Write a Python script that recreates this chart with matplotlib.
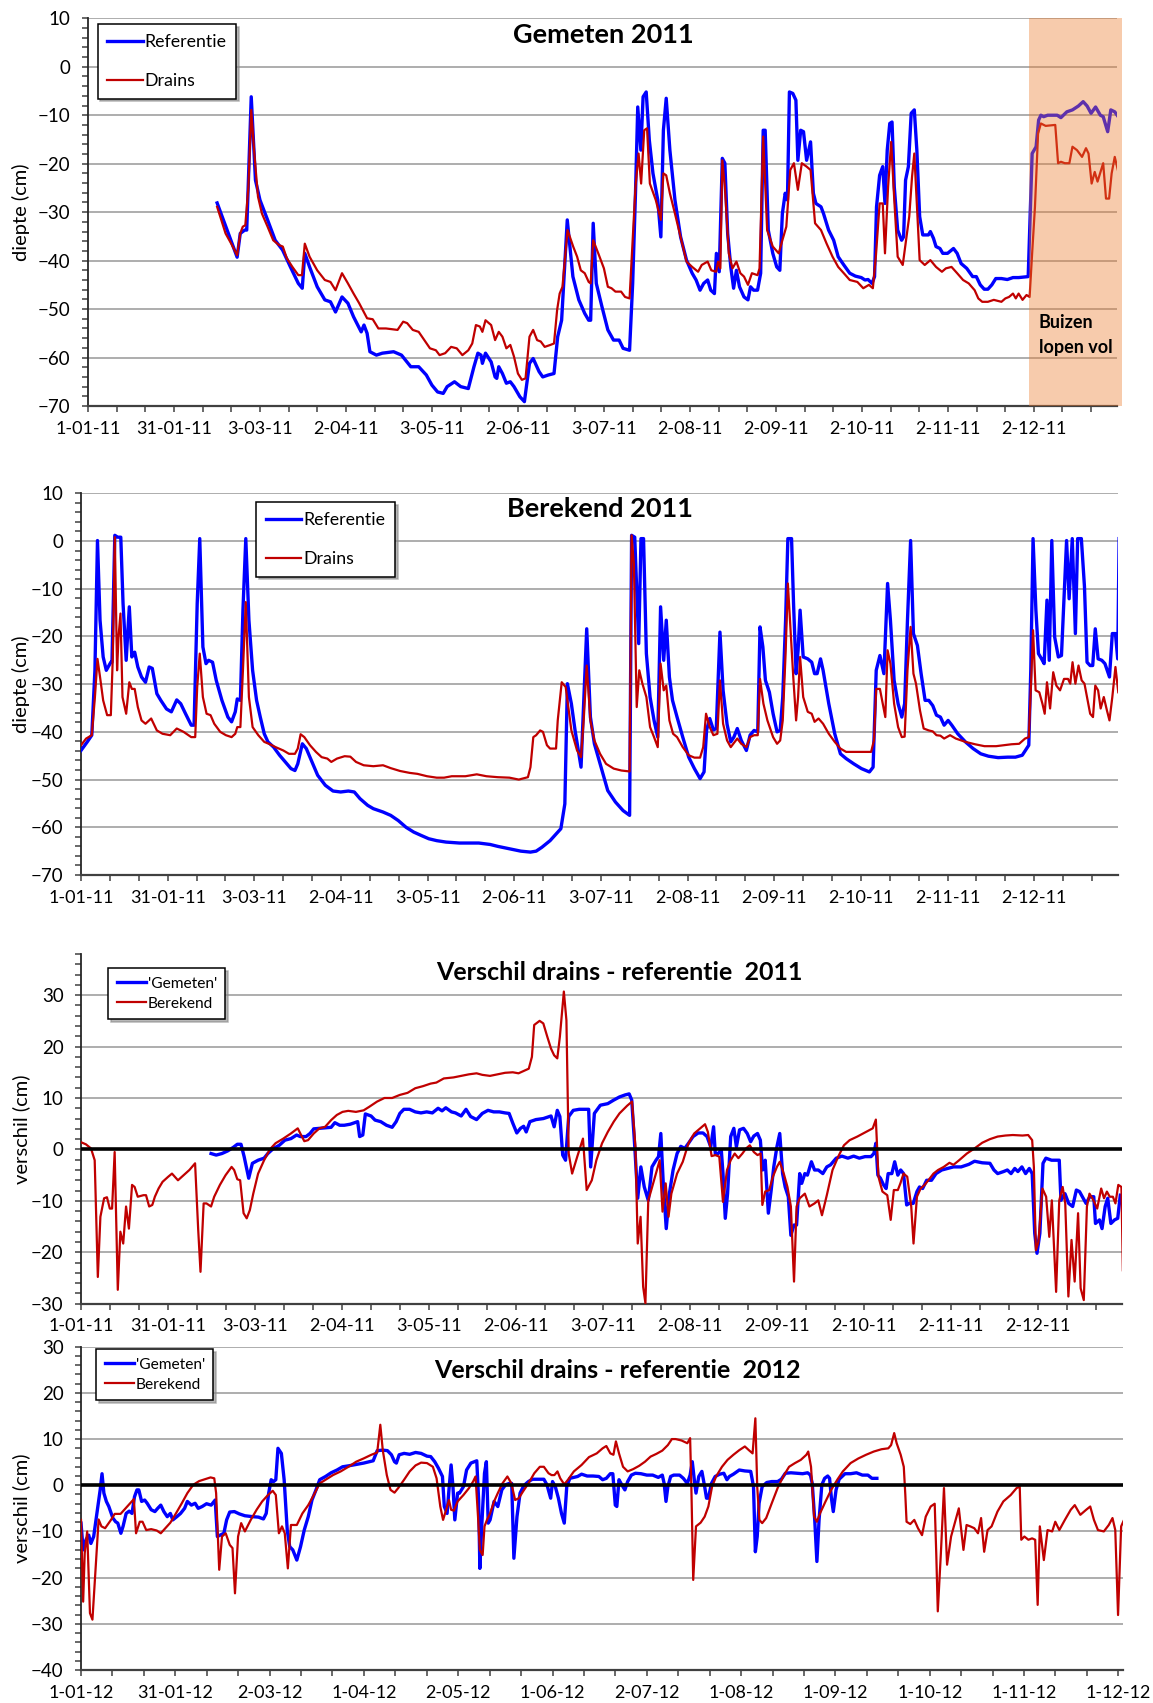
import numpy as np
import matplotlib
matplotlib.use("Agg")
import matplotlib.pyplot as plt
from matplotlib.ticker import FixedLocator, MultipleLocator
from matplotlib.patches import Rectangle

plt.rcParams['font.family'] = ['Lato', 'DejaVu Sans']

# ---------------- DATA (x = days since 1 January of the year) ----------------
# Panel 1: Gemeten 2011
gem_ref_day = [45.8, 52.9, 54.0, 55.6, 56.3, 57.9, 59.4, 61.0, 63.7, 66.4, 69.0, 71.8, 74.6, 76.0, 76.9, 78.6, 81.3, 84.0, 86.0, 87.8,
               90.1, 92.2, 94.2, 96.9, 97.9, 99.0, 100.0, 102.3, 104.4, 108.4, 111.2, 114.5, 117.3, 120.0, 122.0, 124.0, 126.0, 127.4, 130.0, 132.2,
               134.9, 136.9, 138.3, 139.4, 139.9, 141.0, 143.0, 144.4, 145.0, 145.7, 147.0, 148.4, 149.8, 151.1, 153.2, 154.8, 156.6, 157.9, 160.0, 161.3,
               163.3, 165.3, 166.6, 168.0, 170.0, 172.0, 174.1, 176.2, 177.6, 178.3, 179.2, 180.3, 182.3, 184.4, 186.4, 188.4, 189.8, 192.1, 193.2, 194.2,
               195.0, 196.1, 196.9, 198.0, 199.1, 200.4, 202.1, 203.2, 204.1, 205.1, 206.4, 208.2, 210.2, 212.3, 214.3, 215.7, 217.1, 218.4, 219.8, 220.9,
               222.2, 222.9, 223.9, 225.0, 225.9, 226.9, 228.0, 229.0, 230.0, 231.1, 232.7, 234.1, 235.0, 236.1, 237.5, 238.6, 239.5, 240.2, 241.3, 242.9,
               244.3, 245.4, 246.3, 247.3, 248.1, 248.8, 250.0, 251.1, 251.8, 252.8, 253.8, 254.9, 256.3, 257.3, 258.2, 260.0, 260.9, 262.7, 264.5, 266.1,
               268.1, 270.2, 272.2, 274.3, 275.6, 276.7, 278.1, 279.0, 279.7, 280.8, 281.9, 282.7, 283.5, 284.4, 285.2, 286.0, 287.2, 288.6, 289.3, 290.0,
               291.0, 292.0, 293.1, 294.0, 295.0, 296.1, 298.1, 298.8, 299.9, 300.8, 302.2, 303.2, 304.9, 307.0, 308.3, 309.7, 311.7, 313.8, 315.1, 316.5,
               317.9, 319.2, 320.6, 322.0, 324.0, 326.1, 328.1, 330.1, 333.5, 334.9, 336.3, 337.2, 338.0, 339.0, 340.4, 343.8, 345.1, 347.2, 349.2, 351.3,
               353.0, 354.4, 355.8, 357.4, 359.1, 360.1, 361.7, 362.8, 364.2, 365.3]
gem_ref_val = [-28.1, -39.3, -34.4, -33.7, -33.7, -6.2, -23.4, -27.5, -31.6, -35.8, -37.8, -41.3, -44.7, -45.7, -38.5, -41.3, -45.4, -48.1, -48.5, -50.6,
               -47.5, -48.8, -51.6, -54.7, -53.3, -55.0, -58.8, -59.5, -59.1, -58.8, -59.5, -61.9, -61.9, -63.6, -65.7, -67.1, -67.4, -66.0, -65.0, -66.0,
               -66.4, -61.9, -59.1, -59.5, -61.2, -59.1, -60.9, -64.0, -64.3, -61.9, -63.3, -65.3, -65.0, -66.0, -68.1, -69.1, -61.2, -60.2, -62.9, -64.0,
               -63.6, -63.3, -55.7, -52.3, -31.6, -43.3, -48.1, -50.9, -52.3, -52.3, -32.3, -44.7, -49.5, -54.3, -56.4, -56.4, -58.1, -58.5, -44.7, -26.1,
               -8.3, -17.2, -6.2, -5.2, -15.1, -22.0, -27.5, -35.1, -13.1, -6.5, -17.2, -27.5, -35.1, -39.9, -42.6, -44.0, -46.1, -44.7, -44.0, -46.1,
               -46.8, -38.5, -42.3, -18.9, -19.9, -34.4, -41.3, -45.7, -42.0, -45.4, -47.5, -48.1, -45.4, -46.1, -46.1, -42.6, -13.1, -13.1, -33.7, -38.5,
               -41.3, -42.0, -30.3, -26.1, -27.5, -5.2, -5.5, -6.9, -19.3, -13.1, -13.4, -19.3, -15.5, -26.1, -28.2, -28.9, -30.3, -33.7, -35.8, -39.2,
               -40.9, -42.6, -43.2, -43.5, -44.0, -43.9, -44.7, -43.3, -28.9, -22.4, -20.6, -28.2, -17.2, -11.7, -11.4, -24.8, -33.7, -35.8, -35.1, -23.4,
               -20.6, -9.6, -8.9, -17.2, -30.9, -34.7, -34.7, -34.0, -35.4, -37.1, -37.5, -38.5, -38.5, -37.5, -38.5, -40.6, -41.6, -43.3, -43.3, -45.0,
               -45.9, -45.9, -45.0, -43.7, -43.7, -43.9, -43.5, -43.5, -43.3, -17.9, -16.5, -11.0, -10.0, -10.3, -10.0, -10.0, -10.5, -9.3, -8.9, -8.1,
               -7.2, -8.1, -9.6, -8.3, -10.0, -10.3, -13.4, -8.9, -9.3, -10.2]

gem_drn_day = [45.8, 48.8, 50.8, 52.9, 54.0, 54.9, 55.8, 56.9, 57.9, 59.0, 60.3, 61.7, 63.7, 65.7, 67.8, 69.1, 70.5, 72.5, 74.6, 75.9,
               76.9, 78.6, 81.3, 84.0, 86.0, 87.8, 90.1, 92.2, 94.2, 96.2, 99.0, 101.0, 103.0, 105.7, 109.8, 111.8, 113.2, 115.2, 117.3, 119.3,
               121.3, 123.4, 124.7, 126.7, 128.8, 130.8, 132.8, 134.9, 136.3, 137.6, 139.0, 139.9, 141.0, 143.0, 144.4, 145.7, 147.0, 148.4, 149.8, 151.1,
               152.5, 153.9, 155.2, 156.6, 157.9, 159.3, 160.6, 162.0, 164.0, 165.3, 166.4, 167.3, 168.3, 170.1, 172.1, 173.5, 174.8, 176.2, 177.6, 178.3,
               179.2, 181.0, 183.0, 184.4, 185.7, 187.1, 189.1, 190.5, 192.1, 193.2, 194.2, 195.3, 196.2, 197.3, 198.3, 199.3, 201.4, 203.2, 204.1, 205.1,
               206.4, 208.2, 210.2, 212.3, 214.3, 216.4, 217.7, 219.8, 221.1, 222.8, 223.5, 224.3, 225.0, 225.9, 227.3, 228.6, 230.0, 231.4, 232.7, 234.1,
               235.5, 237.5, 238.2, 239.5, 240.9, 242.9, 245.0, 246.3, 247.7, 249.1, 250.4, 251.8, 253.2, 254.9, 256.3, 257.9, 260.0, 262.0, 264.1, 266.1,
               268.1, 270.2, 272.9, 275.0, 277.0, 278.4, 279.5, 280.8, 281.9, 282.7, 283.8, 284.9, 286.0, 287.2, 289.0, 290.0, 291.3, 292.3, 293.1, 294.0,
               295.0, 296.8, 298.8, 300.8, 302.9, 304.3, 306.3, 308.3, 310.4, 312.4, 314.5, 315.8, 317.2, 319.2, 321.3, 324.0, 325.4, 326.7, 328.1, 329.1,
               330.1, 331.5, 332.9, 334.0, 334.9, 335.9, 337.0, 338.0, 339.7, 343.1, 344.1, 345.1, 346.5, 348.1, 349.2, 350.8, 352.6, 354.0, 354.9, 356.0,
               357.1, 358.1, 360.1, 361.1, 362.2, 363.1, 364.2, 365.3]
gem_drn_val = [-28.9, -34.4, -36.5, -38.9, -34.4, -33.0, -32.7, -24.8, -8.9, -17.9, -26.8, -30.3, -33.0, -35.8, -36.8, -37.1, -39.5, -41.3, -43.0, -43.0,
               -36.5, -39.2, -42.0, -44.0, -44.4, -46.1, -42.6, -44.7, -46.8, -48.8, -51.9, -52.1, -54.0, -54.0, -54.3, -52.6, -52.9, -54.3, -54.7, -56.4,
               -58.1, -58.5, -59.5, -59.1, -57.8, -58.1, -59.5, -58.5, -57.1, -53.3, -53.6, -54.7, -52.3, -53.3, -56.4, -54.7, -55.7, -58.1, -57.4, -59.8,
               -63.3, -64.6, -64.3, -55.7, -54.3, -56.4, -56.7, -57.8, -57.4, -57.1, -50.2, -46.8, -45.4, -33.7, -37.1, -39.2, -42.0, -42.6, -44.4, -44.7,
               -35.8, -38.5, -41.6, -45.4, -45.7, -46.4, -46.4, -47.5, -47.8, -35.8, -24.8, -17.9, -24.1, -13.1, -12.7, -24.1, -27.5, -31.6, -22.0, -22.4,
               -26.1, -30.3, -35.1, -40.2, -41.3, -42.3, -40.9, -40.2, -42.0, -42.3, -40.2, -41.6, -19.3, -24.8, -38.5, -41.6, -40.2, -42.6, -43.3, -45.0,
               -42.6, -43.0, -41.6, -14.4, -33.7, -37.1, -38.5, -35.8, -33.0, -21.3, -19.9, -25.4, -19.9, -20.6, -21.3, -32.3, -33.7, -36.5, -39.2, -41.3,
               -42.6, -44.0, -44.4, -45.7, -45.0, -45.7, -38.9, -28.2, -28.2, -38.5, -24.8, -15.5, -27.5, -39.2, -40.9, -36.5, -30.9, -22.7, -17.9, -28.2,
               -39.9, -40.9, -39.9, -41.3, -42.3, -41.6, -41.3, -42.6, -44.0, -44.7, -46.1, -47.8, -48.5, -48.5, -48.1, -48.5, -47.8, -47.5, -46.8, -47.8,
               -46.8, -48.1, -47.1, -47.5, -38.5, -28.9, -13.8, -11.7, -12.2, -12.0, -19.9, -19.6, -19.9, -19.9, -16.5, -17.2, -18.6, -16.8, -17.9, -24.1,
               -21.7, -23.7, -19.9, -27.2, -27.2, -22.0, -18.6, -21.3]

# Panel 2: Berekend 2011
ber_ref_day = [0.0, 2.2, 3.8, 4.9, 5.8, 6.7, 7.8, 8.9, 10.5, 10.9, 11.9, 12.9, 14.0, 14.8, 15.9, 17.0, 17.9, 18.9, 20.0, 21.3,
               22.7, 24.0, 25.1, 26.7, 28.1, 30.1, 31.8, 33.7, 35.1, 36.8, 38.8, 39.8, 40.9, 41.8, 42.9, 44.0, 44.9, 46.3, 47.6, 49.6,
               51.7, 53.0, 54.3, 55.0, 56.1, 57.0, 58.0, 59.1, 60.4, 61.8, 63.1, 64.5, 65.8, 67.8, 69.9, 71.9, 73.9, 75.3, 76.3, 77.9,
               79.3, 81.3, 83.3, 86.0, 88.7, 91.4, 94.1, 96.2, 98.2, 100.9, 102.9, 106.3, 109.0, 111.7, 114.4, 117.1, 119.7, 122.4, 125.2, 128.5,
               133.2, 140.0, 144.0, 146.7, 150.8, 154.8, 158.2, 160.2, 162.2, 165.1, 168.9, 170.3, 171.2, 172.6, 173.9, 176.0, 178.0, 179.3, 180.7, 182.7,
               185.4, 188.1, 190.8, 193.1, 193.8, 194.9, 196.3, 197.1, 198.0, 199.0, 200.3, 201.7, 203.0, 204.0, 205.1, 206.0, 207.1, 208.2, 209.8, 211.8,
               213.9, 215.9, 217.9, 219.3, 220.2, 221.3, 222.6, 223.6, 224.9, 226.0, 227.4, 228.7, 229.8, 231.0, 232.4, 234.2, 235.5, 236.9, 238.2, 239.0,
               240.0, 240.9, 242.3, 243.6, 245.0, 246.1, 247.0, 248.0, 248.8, 250.1, 250.8, 251.7, 252.4, 253.1, 254.2, 255.8, 257.2, 258.2, 259.1, 260.3,
               261.2, 263.2, 265.3, 267.3, 269.3, 272.0, 274.7, 277.5, 278.8, 279.9, 281.2, 282.6, 283.9, 284.9, 286.2, 287.6, 288.9, 289.9, 290.9, 292.0,
               293.0, 294.4, 295.7, 297.1, 298.4, 299.8, 301.1, 302.5, 303.8, 305.2, 306.5, 308.6, 311.3, 314.0, 316.7, 319.4, 322.8, 326.2, 328.9, 331.3,
               333.6, 334.3, 335.1, 336.1, 337.0, 338.1, 339.0, 340.0, 340.8, 341.7, 342.7, 344.0, 345.1, 345.9, 346.9, 347.8, 348.9, 350.0, 350.8, 352.1,
               353.2, 354.1, 355.2, 356.1, 357.0, 358.0, 359.3, 360.4, 362.0, 363.0, 364.1, 364.9, 365.4]
ber_ref_val = [-43.9, -42.1, -40.7, -27.1, 0.1, -16.6, -24.3, -27.1, -25.4, -25.4, 1.2, 0.8, 0.8, -13.1, -25.0, -13.8, -24.3, -23.3, -26.4, -28.5,
               -29.6, -26.4, -26.7, -32.0, -33.4, -35.2, -35.8, -33.3, -34.1, -36.2, -38.6, -38.6, -13.1, 0.5, -22.2, -25.7, -25.0, -25.4, -29.2, -33.4,
               -36.9, -37.9, -35.8, -33.1, -33.4, -14.5, 0.5, -16.6, -27.1, -33.4, -36.9, -40.4, -42.1, -43.2, -44.9, -46.3, -47.7, -48.1, -46.7, -42.5,
               -43.5, -46.3, -49.1, -51.2, -52.4, -52.6, -52.4, -52.6, -54.0, -55.4, -56.1, -56.8, -57.5, -58.6, -60.0, -61.0, -61.7, -62.4, -62.8, -63.1,
               -63.3, -63.3, -63.6, -64.0, -64.5, -65.0, -65.2, -65.0, -64.2, -62.8, -60.3, -55.1, -29.9, -34.1, -39.7, -47.4, -18.4, -36.9, -42.5, -46.7,
               -52.3, -54.7, -56.5, -57.5, 1.2, 0.8, -21.5, 0.5, 0.5, -23.6, -32.7, -37.6, -41.1, -13.8, -25.0, -16.6, -28.5, -33.4, -36.9, -41.1,
               -45.3, -47.7, -49.8, -48.4, -39.6, -37.2, -39.6, -39.3, -19.1, -31.3, -38.4, -42.1, -41.1, -39.3, -41.8, -43.9, -40.7, -39.7, -40.0, -18.0,
               -22.2, -29.2, -31.7, -36.2, -40.0, -39.7, -32.7, -16.6, 0.5, 0.5, -13.1, -27.8, -22.9, -14.5, -24.3, -24.7, -25.4, -27.8, -27.8, -24.7,
               -27.1, -34.1, -40.4, -44.6, -45.6, -46.7, -47.7, -48.4, -47.4, -27.1, -24.0, -27.8, -8.9, -16.6, -29.2, -34.1, -36.9, -34.1, -16.6, 0.1,
               -19.4, -21.9, -27.8, -33.4, -33.4, -34.5, -36.5, -36.9, -38.6, -37.6, -38.6, -40.4, -42.1, -43.5, -44.6, -45.1, -45.4, -45.3, -45.3, -44.9,
               -42.8, -27.1, 0.5, -14.5, -23.6, -24.7, -25.7, -12.4, -25.0, 0.1, -20.1, -24.3, -24.0, -13.1, 0.1, -12.1, 0.5, -19.4, 0.5, 0.5,
               -9.6, -25.4, -26.1, -26.1, -18.4, -24.7, -25.0, -25.7, -28.5, -19.4, -19.4, -24.7, 0.5]

ber_drn_day = [0.0, 1.8, 3.8, 4.9, 5.8, 6.7, 7.8, 9.2, 10.5, 11.2, 11.9, 12.7, 13.2, 13.9, 14.6, 15.9, 17.0, 17.9, 18.9, 20.0,
               21.3, 22.7, 24.7, 26.7, 28.7, 31.4, 33.7, 36.1, 38.8, 40.2, 40.9, 41.8, 42.9, 44.2, 45.6, 46.9, 49.0, 51.0, 53.0, 54.3,
               55.0, 56.1, 57.0, 58.0, 59.1, 60.4, 62.4, 64.5, 66.5, 68.5, 71.2, 73.2, 75.3, 76.3, 77.3, 78.6, 80.6, 82.7, 84.7, 86.7,
               88.1, 90.1, 92.8, 94.8, 96.8, 99.5, 102.9, 106.3, 109.0, 112.3, 115.7, 118.4, 121.8, 125.2, 127.8, 130.5, 135.3, 139.3, 142.7, 146.7,
               150.8, 154.1, 157.3, 158.2, 159.2, 160.2, 161.6, 162.6, 164.0, 165.1, 167.2, 167.8, 169.2, 170.6, 172.6, 174.6, 176.0, 177.0, 178.0, 179.3,
               180.7, 182.7, 184.8, 187.5, 190.2, 193.1, 193.8, 194.6, 195.6, 196.5, 197.6, 199.0, 200.3, 201.7, 203.0, 204.0, 205.1, 206.0, 207.1, 208.4,
               209.8, 211.8, 213.9, 215.9, 217.9, 219.0, 220.0, 221.3, 222.6, 224.0, 224.9, 226.0, 227.4, 228.7, 230.1, 231.0, 232.4, 234.2, 235.5, 236.9,
               238.2, 239.0, 240.2, 241.6, 243.6, 245.0, 246.1, 247.0, 248.0, 248.8, 249.7, 250.7, 251.7, 252.4, 253.1, 254.2, 255.8, 257.2, 258.2, 259.6,
               261.2, 263.2, 265.3, 267.3, 269.3, 272.0, 274.7, 278.1, 279.1, 279.9, 281.2, 282.2, 283.1, 283.9, 284.9, 286.2, 287.6, 288.9, 289.9, 290.9,
               292.0, 293.0, 293.9, 295.3, 296.6, 298.4, 299.8, 301.1, 302.5, 303.8, 305.9, 307.9, 311.3, 314.7, 318.0, 322.1, 324.8, 327.5, 330.2, 332.3,
               333.6, 334.3, 335.1, 336.0, 337.3, 338.4, 339.2, 340.0, 341.1, 342.2, 343.3, 344.6, 346.0, 347.4, 348.2, 349.0, 350.0, 351.1, 352.2, 353.2,
               354.3, 355.2, 356.2, 357.0, 358.0, 358.9, 360.0, 361.1, 362.0, 363.0, 364.1, 365.1]
ber_drn_val = [-42.8, -41.4, -40.7, -32.7, -24.7, -28.5, -33.4, -36.5, -36.5, -24.3, 0.8, -27.1, -20.1, -15.2, -32.7, -36.2, -29.6, -31.0, -31.0, -34.8,
               -37.6, -38.3, -37.2, -39.7, -40.4, -40.7, -39.3, -40.0, -41.1, -41.1, -30.6, -23.6, -32.7, -36.2, -36.5, -38.3, -40.0, -40.7, -41.1, -40.4,
               -39.0, -39.0, -27.1, -12.8, -32.7, -39.0, -40.7, -42.1, -42.6, -43.2, -43.9, -44.6, -44.6, -43.5, -40.5, -41.1, -42.8, -44.2, -45.3, -45.6,
               -46.3, -45.6, -45.1, -45.2, -46.3, -47.0, -47.2, -47.0, -47.6, -48.2, -48.6, -48.8, -49.3, -49.6, -49.6, -49.3, -49.3, -48.9, -49.3, -49.5,
               -49.6, -50.0, -49.5, -47.4, -41.1, -40.7, -39.7, -40.0, -42.8, -43.5, -43.5, -37.6, -29.6, -30.6, -39.7, -43.9, -45.3, -36.9, -26.1, -37.6,
               -41.8, -44.6, -46.7, -47.7, -48.1, -48.3, 1.2, -4.8, -34.8, -27.1, -29.9, -32.7, -39.0, -41.1, -43.2, -25.7, -31.3, -30.3, -37.6, -40.4,
               -41.1, -43.2, -44.9, -45.4, -45.4, -43.2, -36.2, -39.0, -40.7, -40.4, -29.2, -38.3, -41.8, -43.2, -42.1, -41.4, -42.5, -43.2, -41.1, -40.7,
               -40.7, -28.9, -34.1, -37.6, -41.1, -42.5, -41.8, -37.6, -23.6, -8.9, -18.0, -28.5, -37.6, -32.7, -24.3, -32.7, -35.8, -36.2, -37.9, -37.2,
               -38.3, -40.4, -42.1, -43.5, -44.2, -44.2, -44.2, -44.2, -41.8, -31.0, -31.0, -34.1, -36.9, -22.9, -25.7, -34.1, -39.0, -41.1, -41.0, -27.1,
               -18.0, -27.8, -29.9, -35.5, -39.3, -39.7, -39.9, -40.7, -40.8, -41.4, -40.7, -41.4, -42.1, -42.6, -43.0, -43.0, -42.8, -42.6, -42.5, -41.4,
               -41.1, -31.3, -18.7, -31.3, -31.7, -34.1, -36.2, -29.6, -35.1, -27.5, -30.3, -31.3, -28.9, -28.9, -29.9, -25.4, -29.9, -26.1, -29.2, -29.9,
               -33.4, -36.2, -36.9, -30.3, -31.3, -35.1, -32.7, -35.5, -37.6, -32.7, -26.4, -31.7]

# Panel 3: Verschil drains - referentie 2011
v11_gem_day = [45.6, 47.4, 49.4, 51.4, 53.4, 54.8, 56.1, 57.2, 58.8, 60.1, 62.1, 64.2, 65.5, 67.5, 69.5, 71.5, 73.6, 75.6, 76.9, 78.9,
               80.3, 81.6, 83.6, 85.6, 87.7, 89.0, 90.7, 92.3, 94.4, 97.0, 97.7, 98.8, 99.7, 101.7, 103.1, 105.1, 107.1, 109.1, 110.5, 111.8,
               113.2, 115.2, 117.2, 119.2, 121.2, 123.2, 125.2, 126.6, 127.9, 129.9, 131.3, 133.3, 135.0, 136.6, 138.7, 140.7, 142.7, 144.7, 146.7, 148.7,
               150.1, 151.4, 152.8, 154.1, 155.2, 156.1, 157.4, 159.5, 162.1, 164.8, 165.9, 167.0, 167.9, 168.9, 169.9, 171.0, 172.6, 174.7, 176.7, 178.0,
               178.7, 180.0, 182.1, 184.7, 186.8, 188.8, 190.8, 192.2, 193.1, 194.2, 195.2, 196.3, 197.5, 198.9, 200.2, 201.6, 202.5, 203.3, 204.1, 205.2,
               206.3, 207.6, 209.0, 210.3, 211.7, 213.0, 214.6, 216.4, 218.1, 219.5, 220.8, 221.8, 222.4, 223.4, 224.5, 225.1, 225.9, 226.7, 227.8, 228.9,
               229.8, 230.9, 232.3, 233.6, 234.8, 235.9, 237.2, 238.2, 239.0, 239.9, 241.0, 242.0, 242.9, 244.0, 245.0, 246.0, 246.9, 248.0, 248.9, 250.0,
               250.9, 252.0, 252.7, 253.8, 254.7, 256.1, 257.2, 258.5, 260.1, 261.5, 262.8, 264.8, 266.8, 268.9, 270.9, 272.9, 274.9, 277.0, 278.0, 278.7,
               279.4, 280.3, 281.4, 282.3, 283.0, 284.3, 285.3, 286.4, 287.4, 288.4, 289.5, 290.4, 291.8, 293.1, 294.0, 295.1, 296.5, 298.2, 299.8, 301.8,
               303.9, 305.9, 308.6, 311.3, 313.3, 316.0, 318.7, 320.1, 321.4, 323.5, 324.8, 326.1, 327.4, 328.5, 329.9, 331.2, 332.5, 333.5, 334.4, 335.2,
               336.2, 337.3, 338.3, 340.3, 343.0, 343.6, 345.0, 346.3, 347.7, 349.0, 350.1, 351.4, 352.4, 353.7, 355.1, 355.7, 357.1, 358.0, 359.1, 360.0,
               361.1, 362.4, 363.5, 364.4]
v11_gem_val = [-0.8, -1.1, -0.8, -0.3, 0.4, 1.0, 1.0, -1.4, -5.6, -2.7, -2.1, -1.7, -0.8, 0.2, 0.8, 1.8, 2.1, 2.8, 2.5, 2.5,
               3.1, 4.0, 4.1, 4.2, 4.3, 5.2, 4.7, 4.7, 4.9, 5.4, 2.5, 2.8, 6.9, 6.5, 5.7, 5.4, 4.7, 4.3, 5.4, 7.0,
               7.8, 7.8, 7.3, 7.1, 7.3, 7.1, 8.0, 7.5, 8.1, 7.3, 7.1, 6.5, 7.8, 6.4, 5.8, 7.0, 7.6, 7.3, 7.3, 7.1,
               7.0, 5.1, 3.2, 4.1, 4.5, 3.4, 5.4, 5.8, 6.0, 6.5, 4.4, 7.6, 6.4, -1.1, -2.1, 6.4, 7.6, 7.8, 7.8, 7.8,
               -3.4, 7.0, 8.6, 8.9, 9.6, 10.2, 10.6, 10.8, 9.6, 0.2, -9.5, -3.4, -7.3, -9.9, -3.4, -2.1, -1.4, 3.1, -6.0, -15.4,
               -8.6, -4.0, -0.8, 0.6, 0.2, 1.2, 2.5, 3.2, 3.2, 2.5, 0.5, 4.4, -0.8, -0.8, -0.1, -4.7, -13.4, -8.6, 2.5, 4.1,
               0.5, 3.8, 4.1, 3.1, 1.5, 2.6, 3.1, 1.8, -4.0, -2.1, -12.4, -7.9, -3.4, 0.5, 3.1, -4.7, -7.3, -9.2, -16.7, -14.7,
               -14.7, -4.7, -6.6, -4.7, -5.0, -2.4, -4.0, -4.0, -4.7, -3.4, -3.0, -1.7, -1.3, -1.7, -1.3, -1.7, -1.4, -1.4, -0.8, 1.2,
               -5.0, -5.6, -6.9, -7.6, -4.7, -4.7, -2.4, -5.0, -4.0, -4.7, -10.8, -10.5, -10.5, -8.2, -7.3, -7.6, -6.0, -6.0, -4.7, -4.0,
               -3.7, -3.4, -3.4, -2.9, -2.3, -2.6, -2.7, -4.0, -4.7, -4.3, -4.0, -4.7, -3.7, -4.3, -3.4, -4.7, -3.7, -4.7, -16.3, -20.2,
               -16.3, -2.7, -1.7, -2.1, -2.1, -9.9, -8.6, -10.5, -11.1, -7.9, -8.2, -9.5, -10.5, -9.2, -9.2, -14.4, -13.7, -15.4, -11.1, -9.5,
               -14.4, -13.7, -13.4, -8.9]

v11_ber_day = [0.0, 1.7, 3.5, 4.8, 5.9, 6.8, 8.1, 9.1, 10.1, 10.9, 11.8, 12.9, 13.8, 14.8, 15.8, 16.8, 17.9, 18.8, 19.9, 21.9,
               22.8, 23.9, 25.0, 25.9, 27.2, 28.6, 30.6, 31.9, 34.0, 36.0, 38.0, 40.0, 41.1, 41.9, 43.0, 44.0, 45.6, 46.7, 48.7, 50.7,
               52.8, 53.7, 54.8, 55.8, 57.0, 58.1, 59.2, 60.4, 62.1, 64.2, 66.2, 68.2, 70.9, 73.6, 76.0, 76.9, 78.3, 79.6, 81.6, 83.6,
               85.6, 87.7, 89.7, 91.7, 93.7, 96.4, 99.1, 101.1, 103.8, 106.4, 109.1, 111.8, 114.5, 117.2, 119.9, 122.6, 124.6, 127.2, 130.6, 133.3,
               136.0, 138.7, 140.7, 143.4, 146.0, 148.7, 151.4, 153.4, 155.4, 157.0, 158.1, 158.9, 160.8, 162.1, 163.5, 164.8, 165.9, 167.0, 167.9, 169.3,
               170.2, 171.0, 172.2, 174.0, 176.0, 177.3, 179.1, 180.7, 182.7, 184.7, 186.8, 188.8, 191.5, 193.2, 194.4, 195.2, 196.2, 197.1, 197.9, 198.9,
               199.8, 201.6, 202.9, 203.9, 205.0, 206.0, 207.0, 209.0, 211.0, 213.0, 215.0, 217.1, 218.8, 219.8, 221.1, 222.4, 223.8, 225.1, 226.5, 227.8,
               229.2, 230.5, 231.9, 233.2, 234.5, 235.9, 237.2, 238.3, 238.9, 239.9, 241.3, 242.6, 244.0, 245.0, 246.4, 247.7, 248.9, 250.0, 250.9, 252.0,
               253.8, 255.4, 257.2, 258.5, 259.8, 261.5, 263.5, 265.5, 267.5, 269.5, 272.2, 274.9, 277.6, 278.7, 279.6, 281.0, 282.7, 283.9, 285.0, 286.4,
               287.3, 288.4, 289.7, 291.1, 291.9, 293.1, 294.4, 295.8, 297.1, 298.9, 300.5, 302.5, 304.5, 305.9, 307.9, 310.6, 313.3, 316.0, 318.7, 321.4,
               324.1, 326.7, 330.1, 332.1, 333.5, 334.1, 334.8, 335.7, 337.1, 338.4, 339.5, 340.4, 341.9, 343.0, 344.2, 345.1, 346.2, 347.3, 348.4, 349.6,
               350.5, 351.6, 352.7, 353.6, 355.0, 356.3, 357.7, 358.7, 359.7, 360.7, 361.8, 362.7, 363.7, 364.8, 365.3]
v11_ber_val = [1.4, 1.0, 0.2, -2.1, -24.8, -13.1, -9.5, -9.3, -11.5, -11.5, -0.5, -27.3, -16.0, -18.3, -11.1, -15.4, -6.9, -7.3, -9.2, -8.9,
               -8.9, -11.1, -10.8, -9.2, -7.6, -6.3, -5.3, -4.7, -6.0, -5.0, -4.0, -2.7, -15.7, -23.8, -10.5, -10.5, -11.1, -9.2, -6.9, -5.0,
               -3.4, -4.0, -5.8, -6.0, -12.4, -13.4, -11.8, -8.6, -4.7, -2.1, 0.0, 1.2, 2.1, 3.1, 4.1, 3.1, 1.6, 1.8, 3.1, 4.1,
               4.4, 5.7, 6.7, 7.3, 7.5, 7.3, 7.6, 8.3, 9.3, 10.0, 10.0, 10.6, 11.0, 11.9, 12.3, 12.8, 13.0, 13.8, 14.0, 14.3,
               14.6, 14.8, 14.5, 14.3, 14.6, 14.9, 15.0, 14.8, 15.3, 15.7, 18.0, 24.2, 25.0, 24.5, 21.9, 19.6, 18.3, 17.7, 21.9, 30.7,
               25.1, -0.8, -4.7, -1.4, 2.1, -7.9, -6.0, -2.1, 1.2, 3.4, 5.4, 7.0, 8.5, 9.3, 0.5, -18.3, -13.1, -26.7, -29.9, -9.9,
               -8.2, -4.7, -2.1, -12.1, -6.6, -13.1, -8.6, -4.7, -2.4, 1.2, 3.1, 4.1, 4.9, 3.4, -1.3, -1.1, -1.4, -10.2, -4.0, -2.1,
               -0.8, -1.7, -0.8, 0.2, 0.8, -0.5, -1.1, -0.8, -10.8, -8.2, -7.9, -5.3, -3.4, -2.4, -4.7, -7.3, -11.1, -25.7, -11.1, -9.5,
               -8.6, -11.1, -10.5, -9.9, -12.8, -8.9, -4.0, -1.4, 0.8, 1.8, 2.5, 3.3, 4.1, 5.8, -5.3, -8.2, -8.9, -13.7, -7.9, -7.9,
               -6.6, -4.7, -5.3, -11.1, -18.3, -9.2, -7.6, -6.9, -6.0, -4.7, -4.0, -3.4, -2.6, -3.0, -2.1, -0.8, 0.2, 1.3, 2.0, 2.5,
               2.7, 2.8, 2.7, 2.8, 1.8, -3.4, -19.6, -18.0, -7.6, -9.2, -17.0, -9.9, -27.7, -9.9, -7.3, -10.5, -28.6, -17.6, -25.7, -12.4,
               -27.0, -29.3, -11.1, -8.6, -9.9, -11.5, -7.6, -9.5, -8.2, -9.2, -9.2, -10.5, -6.9, -7.3, -23.5]

# Panel 4: Verschil drains - referentie 2012
v12_gem_day = [0.0, 0.7, 1.6, 2.5, 3.2, 4.1, 5.0, 5.7, 6.2, 6.8, 7.4, 8.2, 9.0, 10.3, 11.2, 11.9, 12.9, 13.6, 14.6, 15.6,
               16.5, 17.3, 18.1, 18.7, 19.6, 20.6, 21.4, 22.7, 23.9, 24.8, 25.8, 26.8, 27.9, 28.9, 29.7, 31.0, 32.2, 33.5, 34.4, 35.7,
               36.9, 37.9, 39.2, 40.6, 42.1, 43.4, 44.1, 45.0, 46.2, 47.1, 48.1, 49.6, 51.2, 53.0, 55.5, 57.4, 59.0, 59.9, 60.7, 61.5,
               62.3, 63.0, 63.7, 64.8, 65.7, 66.7, 67.5, 68.5, 69.8, 71.0, 72.2, 73.5, 74.7, 76.0, 77.2, 79.1, 80.9, 82.8, 84.6, 86.5,
               89.0, 91.4, 94.5, 95.8, 97.6, 99.1, 100.4, 101.4, 102.0, 102.9, 104.5, 106.3, 108.2, 110.0, 111.9, 113.1, 114.4, 115.6, 116.9, 117.5,
               118.4, 119.0, 119.7, 120.3, 120.9, 121.8, 122.4, 123.7, 124.7, 126.1, 128.0, 128.6, 129.0, 129.6, 130.5, 131.1, 131.7, 132.3, 133.6, 134.8,
               136.1, 137.3, 138.5, 139.3, 140.0, 141.0, 142.0, 143.2, 144.7, 146.0, 147.8, 149.7, 150.7, 151.9, 152.5, 153.4, 154.4, 155.4, 156.3, 157.1,
               158.1, 160.6, 161.9, 163.7, 165.6, 167.5, 168.7, 169.9, 171.2, 172.0, 172.8, 173.3, 174.0, 174.9, 175.9, 176.8, 178.0, 179.3, 181.1, 183.0,
               184.9, 186.7, 188.0, 188.6, 189.2, 189.8, 190.7, 191.7, 193.6, 194.8, 196.1, 197.0, 197.7, 198.3, 198.9, 199.8, 200.8, 201.7, 202.3, 202.9,
               203.9, 205.1, 206.6, 207.9, 208.9, 209.7, 211.0, 212.9, 214.7, 216.6, 217.5, 218.1, 218.7, 219.3, 220.3, 221.8, 223.4, 225.3, 226.5, 227.8,
               229.6, 231.5, 233.4, 235.0, 235.9, 236.5, 237.3, 238.0, 238.7, 239.6, 240.5, 241.5, 242.1, 242.7, 243.3, 244.2, 245.2, 247.1, 248.9, 250.8,
               252.7, 254.5, 255.8, 257.4]
v12_gem_val = [-8.2, -14.0, -11.8, -10.8, -12.6, -11.1, -6.8, -3.5, -1.0, 2.5, -1.7, -3.5, -4.6, -7.1, -7.9, -8.2, -10.4, -8.9, -6.1, -5.6,
               -6.1, -2.5, -1.0, -1.0, -3.5, -3.2, -3.9, -5.3, -5.7, -5.0, -4.3, -5.7, -6.8, -6.1, -7.5, -6.8, -6.1, -5.0, -3.5, -4.3,
               -3.9, -5.0, -4.6, -4.0, -4.3, -3.2, -11.1, -10.8, -10.4, -7.5, -5.8, -5.7, -6.2, -6.6, -6.8, -6.9, -7.3, -6.1, -1.7, 1.2,
               0.8, 1.2, 8.0, 6.9, 1.2, -9.7, -13.3, -14.0, -16.2, -13.3, -9.7, -6.8, -3.2, -1.0, 1.2, 1.9, 2.7, 3.3, 4.0, 4.2,
               4.5, 4.8, 5.3, 7.5, 7.6, 7.5, 6.6, 5.1, 4.8, 6.6, 6.9, 6.7, 7.1, 6.9, 6.3, 6.2, 5.1, 3.7, 1.9, -4.6,
               -6.1, -1.0, 4.4, -0.3, -7.5, -1.7, -1.7, -0.3, 3.3, 4.8, 5.3, -3.2, -18.0, -8.9, 2.6, 5.1, -8.2, -7.5, -3.5, -4.6,
               -1.0, 0.1, 0.4, 0.4, -15.8, -6.8, -1.7, -0.1, 0.8, 1.3, 1.3, 1.3, 0.1, -2.8, 0.8, -0.3, -2.8, -6.1, -8.2, -0.3,
               1.5, 1.9, 2.4, 2.0, 2.0, 1.9, 1.2, 1.5, 2.5, 2.5, -4.3, -4.6, 1.2, 0.1, -1.0, 0.8, 2.2, 2.6, 2.5, 2.2,
               2.2, 1.7, 2.2, 0.4, -3.5, -0.3, 1.9, 2.2, 2.2, 1.5, 0.4, 2.2, 5.1, 1.5, -1.7, 1.9, 3.0, -0.3, -2.8, -2.8,
               0.4, 1.9, 2.4, 2.6, 1.2, 1.9, 2.4, 3.3, 3.1, 3.0, -0.3, -14.4, -11.1, -3.9, -0.3, 0.6, 0.8, 0.8, 1.3, 2.6,
               2.7, 2.6, 2.5, 2.7, 2.2, 0.4, -7.5, -16.5, -7.5, 0.1, 1.5, 2.0, 1.5, -2.8, -5.7, -1.0, 1.3, 2.5, 2.5, 2.7,
               2.2, 2.2, 1.5, 1.5]

v12_ber_day = [0.0, 0.7, 1.2, 2.0, 2.9, 3.7, 4.7, 5.7, 6.6, 7.8, 9.7, 10.9, 12.8, 14.0, 15.9, 17.1, 17.8, 19.0, 19.9, 21.1,
               22.7, 24.5, 25.8, 27.3, 28.9, 30.7, 32.6, 34.4, 36.3, 38.2, 40.0, 41.9, 43.1, 43.7, 44.7, 45.6, 46.8, 48.1, 49.0, 49.8,
               50.8, 51.8, 53.0, 54.9, 56.8, 58.6, 60.5, 62.0, 63.0, 64.0, 65.0, 65.9, 66.9, 67.9, 69.8, 71.6, 73.5, 75.3, 77.2, 79.1,
               81.5, 84.0, 86.5, 89.0, 91.4, 93.9, 95.8, 96.8, 97.6, 98.9, 100.1, 101.4, 102.6, 104.5, 106.3, 108.2, 110.0, 111.9, 113.8, 115.0,
               116.2, 117.1, 118.1, 119.0, 119.7, 120.6, 121.8, 123.7, 125.5, 126.8, 127.6, 128.4, 129.0, 129.9, 130.5, 131.3, 132.3, 133.6, 134.8, 136.3,
               137.9, 139.2, 140.4, 141.6, 142.9, 144.7, 146.6, 148.4, 149.7, 151.2, 152.2, 153.1, 154.1, 155.0, 156.3, 157.5, 159.4, 161.9, 164.3, 166.8,
               168.7, 169.9, 171.2, 172.2, 173.0, 174.0, 175.3, 176.8, 178.6, 180.5, 182.4, 184.2, 186.1, 188.0, 189.8, 191.1, 192.3, 194.2, 196.1, 197.0,
               197.4, 198.0, 198.9, 200.4, 201.7, 202.9, 204.1, 205.4, 207.3, 209.1, 211.0, 212.9, 214.7, 216.0, 217.2, 218.1, 218.7, 219.4, 220.3, 221.6,
               223.4, 225.3, 227.2, 229.0, 230.9, 232.8, 234.6, 235.2, 236.1, 237.1, 238.0, 239.0, 240.8, 242.7, 244.6, 246.4, 248.9, 251.4, 253.9, 256.4,
               258.9, 261.1, 262.0, 263.0, 263.8, 265.1, 266.1, 266.6, 267.0, 268.2, 269.5, 270.7, 272.0, 273.2, 274.8, 276.1, 276.6, 277.1, 278.1, 279.1,
               280.1, 281.4, 282.6, 283.9, 284.9, 285.4, 286.4, 287.6, 288.9, 290.1, 291.1, 292.1, 293.2, 294.5, 296.4, 298.3, 300.7, 302.6, 303.6, 304.1,
               305.1, 306.4, 307.6, 308.6, 309.4, 310.1, 311.4, 312.6, 314.1, 315.1, 316.4, 318.2, 320.1, 321.4, 323.2, 325.1, 326.4, 327.6, 328.9, 330.8,
               332.4, 333.6, 334.5, 335.4, 336.4, 337.6]
v12_ber_val = [-7.5, -25.2, -14.7, -10.0, -27.7, -29.1, -18.3, -7.4, -8.9, -9.3, -7.5, -6.2, -6.2, -5.3, -3.9, -3.0, -10.4, -7.9, -7.9, -9.7,
               -9.5, -9.8, -10.4, -9.3, -8.1, -6.1, -3.9, -1.7, 0.1, 0.9, 1.3, 1.7, 1.5, -1.7, -18.3, -11.1, -10.4, -12.9, -13.6, -23.4,
               -11.1, -8.2, -10.0, -7.5, -5.3, -3.5, -2.1, -1.2, -2.1, -10.4, -8.9, -10.4, -18.0, -8.6, -8.6, -6.1, -4.3, -2.1, 0.4, 1.2,
               2.2, 3.0, 4.0, 5.1, 5.8, 6.6, 7.1, 13.1, 7.6, 2.2, -1.0, -1.6, -0.6, 1.2, 3.0, 4.3, 4.9, 4.8, 4.0, 1.5,
               -4.6, -7.5, -5.3, -3.2, -5.3, -5.5, -3.5, -2.1, -0.6, 0.8, 1.9, -6.8, -14.0, -15.1, -8.9, -7.5, -6.1, -3.5, -1.7, 0.4,
               1.9, 0.4, -3.2, -2.8, -1.4, 0.4, 2.6, 4.0, 4.0, 2.6, 2.2, 2.2, 3.0, 1.5, 0.2, 1.2, 3.0, 4.4, 6.1, 6.9,
               8.0, 8.5, 6.9, 6.6, 9.5, 6.9, 4.0, 3.0, 3.5, 4.2, 5.1, 6.2, 6.8, 7.5, 8.7, 10.0, 10.0, 9.7, 9.1, 10.2,
               -0.3, -20.5, -8.9, -8.1, -6.8, -4.6, -0.3, 1.9, 4.0, 5.5, 6.6, 7.6, 8.4, 7.6, 6.9, 14.5, -0.3, -7.5, -8.2, -7.1,
               -3.9, -0.6, 2.0, 4.0, 4.8, 5.5, 6.6, 7.3, 4.0, -6.8, -7.9, -6.1, -3.5, -0.9, 1.2, 3.0, 4.8, 5.8, 6.6, 7.3,
               7.8, 8.0, 8.7, 11.3, 9.1, 6.6, 4.0, -2.1, -7.9, -8.4, -7.5, -9.3, -10.8, -6.8, -4.6, -4.0, -14.7, -27.3, -14.7, -0.6,
               -17.2, -11.1, -8.2, -5.0, -11.1, -14.0, -8.6, -8.9, -9.3, -10.4, -7.1, -14.4, -9.7, -8.9, -5.7, -3.5, -2.1, -0.6, -0.3, -11.8,
               -11.1, -11.8, -11.5, -11.8, -25.9, -8.9, -16.2, -9.7, -10.0, -7.9, -9.7, -7.5, -5.3, -4.3, -6.4, -5.3, -4.6, -7.5, -9.7, -10.0,
               -8.6, -7.1, -9.7, -28.1, -8.9, -7.1]

labels_2011 = ['1-01-11', '31-01-11', '3-03-11', '2-04-11', '3-05-11', '2-06-11',
               '3-07-11', '2-08-11', '2-09-11', '2-10-11', '2-11-11', '2-12-11']
labels_2012 = ['1-01-12', '31-01-12', '2-03-12', '1-04-12', '2-05-12', '1-06-12',
               '2-07-12', '1-08-12', '1-09-12', '1-10-12', '1-11-12', '1-12-12']

# ---------------- FIGURE ----------------
W, H = 1153, 1703
fig = plt.figure(figsize=(W / 100, H / 100), dpi=100)

BLUE = '#0000FF'
RED = '#C00000'
GRID = '#A0A0A0'


def rect(l, r, t, b):
    return [l / W, 1 - b / H, (r - l) / W, (b - t) / H]


def style(ax, xmax, ylim, labels, ylabel):
    ax.set_xlim(0, xmax)
    ax.set_ylim(*ylim)
    for s in ('top', 'right'):
        ax.spines[s].set_visible(False)
    ax.spines['left'].set_color('#262626')
    ax.spines['left'].set_linewidth(1.3)
    ax.spines['bottom'].set_color('#404040')
    ax.spines['bottom'].set_linewidth(1.6)
    ax.xaxis.set_major_locator(FixedLocator(np.arange(12) * 30.5))
    ax.set_xticklabels(labels)
    ax.xaxis.set_minor_locator(FixedLocator(np.arange(0, xmax + 0.01, 30.5 / 3)))
    ax.yaxis.set_major_locator(MultipleLocator(10))
    ax.yaxis.set_minor_locator(MultipleLocator(2))
    ax.tick_params(axis='both', which='both', direction='out', length=4.5,
                   width=1.1, color='#404040')
    ax.tick_params(axis='x', labelsize=13, pad=6, colors='#404040', labelcolor='black')
    ax.tick_params(axis='y', labelsize=13.5, pad=8, labelcolor='black')
    ax.grid(axis='y', which='major', color=GRID, lw=1.2)
    ax.set_axisbelow(True)
    ax.set_ylabel(ylabel, fontsize=14.5)


def legend(ax, x, y, fs, ls, hl):
    lg = ax.legend(loc='upper left', bbox_to_anchor=(x / W, 1 - y / H),
                   bbox_transform=fig.transFigure, frameon=True, fancybox=False,
                   shadow={'color': '#8a8a8a', 'alpha': 0.6}, framealpha=1,
                   edgecolor='black', borderaxespad=0, fontsize=fs,
                   labelspacing=ls, handlelength=hl, handletextpad=0.1,
                   borderpad=0.55)
    lg.get_frame().set_linewidth(1.1)
    return lg


# Panel 1 ----------------------------------------------------------
ax1 = fig.add_axes(rect(88, 1117, 18.3, 406))
style(ax1, 365, (-70, 10), labels_2011, 'diepte (cm)')
ax1.plot(gem_ref_day, gem_ref_val, color=BLUE, lw=2.4, label='Referentie', zorder=3)
ax1.plot(gem_drn_day, gem_drn_val, color=RED, lw=1.6, label='Drains', zorder=4)
ax1.add_patch(Rectangle((333.8, -70), 33.0, 80, facecolor='#ED7D31', alpha=0.4,
                        edgecolor='none', zorder=5, clip_on=False))
ax1.text(1039 / W, 1 - 335 / H, 'Buizen\nlopen vol', transform=fig.transFigure,
         fontsize=13, fontweight='bold', ha='left', va='center', linespacing=1.5, zorder=6)
legend(ax1, 97.6, 24, 12.8, 1.3, 2.0)
fig.text(603 / W, 1 - 35 / H, 'Gemeten 2011', fontsize=19.5, fontweight='bold',
         ha='center', va='center')

# Panel 2 ----------------------------------------------------------
ax2 = fig.add_axes(rect(81, 1118, 493.3, 875))
style(ax2, 365, (-70, 10), labels_2011, 'diepte (cm)')
ax2.plot(ber_ref_day, ber_ref_val, color=BLUE, lw=2.4, label='Referentie', zorder=3)
ax2.plot(ber_drn_day, ber_drn_val, color=RED, lw=1.6, label='Drains', zorder=4)
legend(ax2, 256, 502, 12.8, 1.3, 2.0)
fig.text(600 / W, 1 - 509 / H, 'Berekend 2011', fontsize=19.5, fontweight='bold',
         ha='center', va='center')

# Panel 3 ----------------------------------------------------------
ax3 = fig.add_axes(rect(81, 1122, 954, 1303.7))
style(ax3, 365, (-30, 38), labels_2011, 'verschil (cm)')
ax3.plot(v11_gem_day, v11_gem_val, color=BLUE, lw=2.4, label="'Gemeten'", zorder=3)
ax3.plot(v11_ber_day, v11_ber_val, color=RED, lw=1.6, label='Berekend', zorder=4)
ax3.axhline(0, color='black', lw=2.6, zorder=5)
legend(ax3, 108, 968, 11.2, 0.4, 1.9)
fig.text(619 / W, 1 - 973 / H, 'Verschil drains - referentie  2011', fontsize=18,
         fontweight='bold', ha='center', va='center')

# Panel 4 ----------------------------------------------------------
ax4 = fig.add_axes(rect(81, 1123, 1346.7, 1670))
style(ax4, 337, (-40, 30), labels_2012, 'verschil (cm)')
ax4.plot(v12_gem_day, v12_gem_val, color=BLUE, lw=2.4, label="'Gemeten'", zorder=3)
ax4.plot(v12_ber_day, v12_ber_val, color=RED, lw=1.6, label='Berekend', zorder=4)
ax4.axhline(0, color='black', lw=2.6, zorder=5)
legend(ax4, 96, 1349, 11.2, 0.4, 1.9)
fig.text(617 / W, 1 - 1370 / H, 'Verschil drains - referentie  2012', fontsize=18,
         fontweight='bold', ha='center', va='center')

for ax in (ax1, ax2, ax3, ax4):
    ax.yaxis.set_label_coords(30 / W, 0.5 * (ax.get_position().y0 + ax.get_position().y1),
                              transform=fig.transFigure)

fig.savefig('out.png', dpi=100)
